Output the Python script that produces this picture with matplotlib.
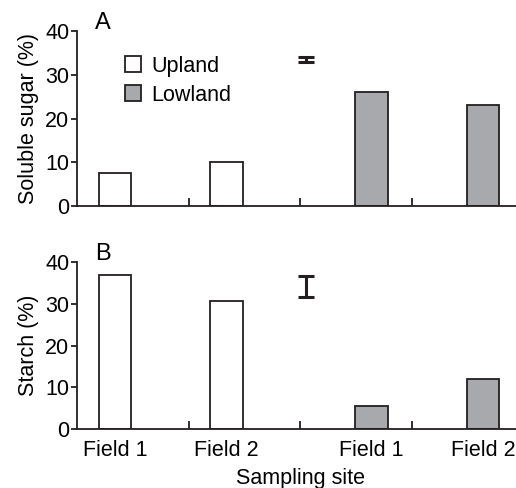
import numpy as np
import matplotlib
matplotlib.use("Agg")
from matplotlib import pyplot as plt
from matplotlib.patches import Patch

plt.rcParams['font.family'] = ['Liberation Sans', 'DejaVu Sans']
plt.rcParams['font.size'] = 15.5

sites = ["Field 1", "Field 2", "Field 1", "Field 2"]
groups = ["Upland", "Upland", "Lowland", "Lowland"]
sugar = [7.5, 10.0, 26.0, 23.1]
starch = [36.8, 30.7, 5.6, 12.0]
sugar_err = (33.5, 0.55)
starch_err = (34.1, 2.5)

colors = {"Upland": "white", "Lowland": "#a7a9ac"}
edge = "#231f20"

W, H = 516, 488
fig = plt.figure(figsize=(W / 100, H / 100), dpi=100)


def px_axes(left, right, top, bottom):
    return fig.add_axes([left / W, 1 - bottom / H, (right - left) / W, (bottom - top) / H])


ax1 = px_axes(77, 523, 31, 206)
ax2 = px_axes(77, 523, 262, 429)

# upland bars sit left of the category centre, lowland bars right
offsets = np.array([0.34 if g == "Upland" else 0.64 for g in groups])
xpos = np.arange(len(sites)) + offsets


def draw(ax, values, err, ylabel, letter):
    ax.bar(xpos, values, width=0.29, color=[colors[g] for g in groups],
           edgecolor=edge, linewidth=1.3)
    ax.errorbar([2.05], [err[0]], yerr=[err[1]], color=edge, capsize=6,
                elinewidth=2.2, capthick=2.2, fmt="none")
    ax.set_xlim(0, 4)
    ax.set_ylim(0, 40)
    ax.set_yticks([0, 10, 20, 30, 40])
    for s in ["top", "right"]:
        ax.spines[s].set_visible(False)
    for s in ["left", "bottom"]:
        ax.spines[s].set_linewidth(1.3)
        ax.spines[s].set_color(edge)
    ax.tick_params(axis="y", direction="out", length=4, width=1.3, pad=1.5, color=edge)
    ax.set_xticks(xpos)
    ax.set_xticks([1, 2, 3], minor=True)
    ax.tick_params(axis="x", which="major", length=0, pad=8)
    ax.tick_params(axis="x", which="minor", direction="in", length=6, width=1.3, color=edge)
    ax.set_ylabel(ylabel)
    ax.yaxis.set_label_coords(-0.086, 0.5)
    ax.text(0.04, 0.985, letter, transform=ax.transAxes, fontsize=17, va="bottom", ha="left")


draw(ax1, sugar, sugar_err, "Soluble sugar (%)", "A")
draw(ax2, starch, starch_err, "Starch (%)", "B")
ax1.set_xticklabels([])
ax2.set_xticklabels(sites)
ax2.set_xlabel("Sampling site", labelpad=5)

handles = [Patch(facecolor=colors[g], edgecolor=edge, linewidth=1.3) for g in ["Upland", "Lowland"]]
ax1.legend(handles, ["Upland", "Lowland"], loc="upper left", bbox_to_anchor=(0.108, 0.86),
           frameon=False, handlelength=0.75, handleheight=0.75, handletextpad=0.45,
           labelspacing=0.38, borderaxespad=0, borderpad=0)

fig.savefig("out.png", dpi=100)
